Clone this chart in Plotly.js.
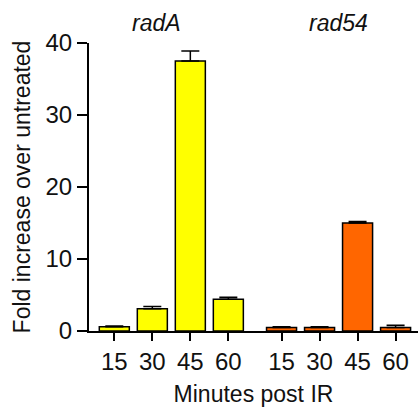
<!DOCTYPE html>
<html>
<head>
<meta charset="utf-8">
<script src="https://cdn.plot.ly/plotly-3.0.1.min.js"></script>
<style>html,body{margin:0;padding:0;background:#fff;}#chart{width:419px;height:413px;}</style>
</head>
<body>
<div id="chart"></div>
<script>
// Data
const minutes = ["15", "30", "45", "60"];
const genes = ["radA", "rad54"];
const radA = [0.6, 3.1, 37.5, 4.4];
const radAErr = [0.1, 0.3, 1.4, 0.3];
const rad54 = [0.5, 0.5, 15.0, 0.5];
const rad54Err = [0.1, 0.1, 0.2, 0.3];

const colors = ["#FFFF00", "#FF6600"];
const groupOffset = 4.4;
const series = [radA, rad54];
const errs = [radAErr, rad54Err];

const traces = series.map((vals, g) => ({
  type: "bar",
  x: minutes.map((m, i) => i + g * groupOffset),
  y: vals,
  width: 0.79,
  marker: {color: colors[g], line: {color: "#000", width: 1.5}},
  error_y: {type: "data", array: errs[g], symmetric: false, arrayminus: errs[g].map(() => 0),
            color: "#000", thickness: 1.5, width: 9},
  showlegend: false,
  hoverinfo: "skip"
}));

const tickvals = [], ticktext = [];
genes.forEach((gname, g) => minutes.forEach((m, i) => { tickvals.push(i + g * groupOffset); ticktext.push(m); }));

const font = {family: "Liberation Sans, Arial, sans-serif", size: 23, color: "#111"};
const tickFont = Object.assign({}, font, {size: 24});

const layout = {
  width: 419, height: 413,
  margin: {l: 89, r: 1, t: 43, b: 82},
  paper_bgcolor: "#fff", plot_bgcolor: "#fff",
  font: font,
  bargap: 0,
  xaxis: {
    range: [-0.666, 7.99], tickvals: tickvals, ticktext: ticktext,
    showgrid: false, zeroline: false, showline: true, linecolor: "#000", linewidth: 2,
    ticks: "outside", ticklen: 8, tickwidth: 2, tickcolor: "#000",
    tickfont: tickFont,
    title: {text: "Minutes post IR", font: font, standoff: 12}
  },
  yaxis: {
    range: [0, 40], tickvals: [0, 10, 20, 30, 40],
    showgrid: false, zeroline: false, showline: true, linecolor: "#000", linewidth: 2,
    ticks: "outside", ticklen: 10, tickwidth: 2, tickcolor: "#000",
    tickfont: tickFont,
    title: {text: "Fold increase over untreated", font: font, standoff: 8}
  },
  annotations: [
    {text: genes[0], x: 1.12, xref: "x", y: 1.069, yref: "paper", showarrow: false,
     font: Object.assign({}, font, {style: "italic"}), xanchor: "center", yanchor: "middle"},
    {text: genes[1], x: 5.9, xref: "x", y: 1.069, yref: "paper", showarrow: false,
     font: Object.assign({}, font, {style: "italic"}), xanchor: "center", yanchor: "middle"}
  ]
};

Plotly.newPlot("chart", traces, layout, {displayModeBar: false, staticPlot: true});
</script>
</body>
</html>
